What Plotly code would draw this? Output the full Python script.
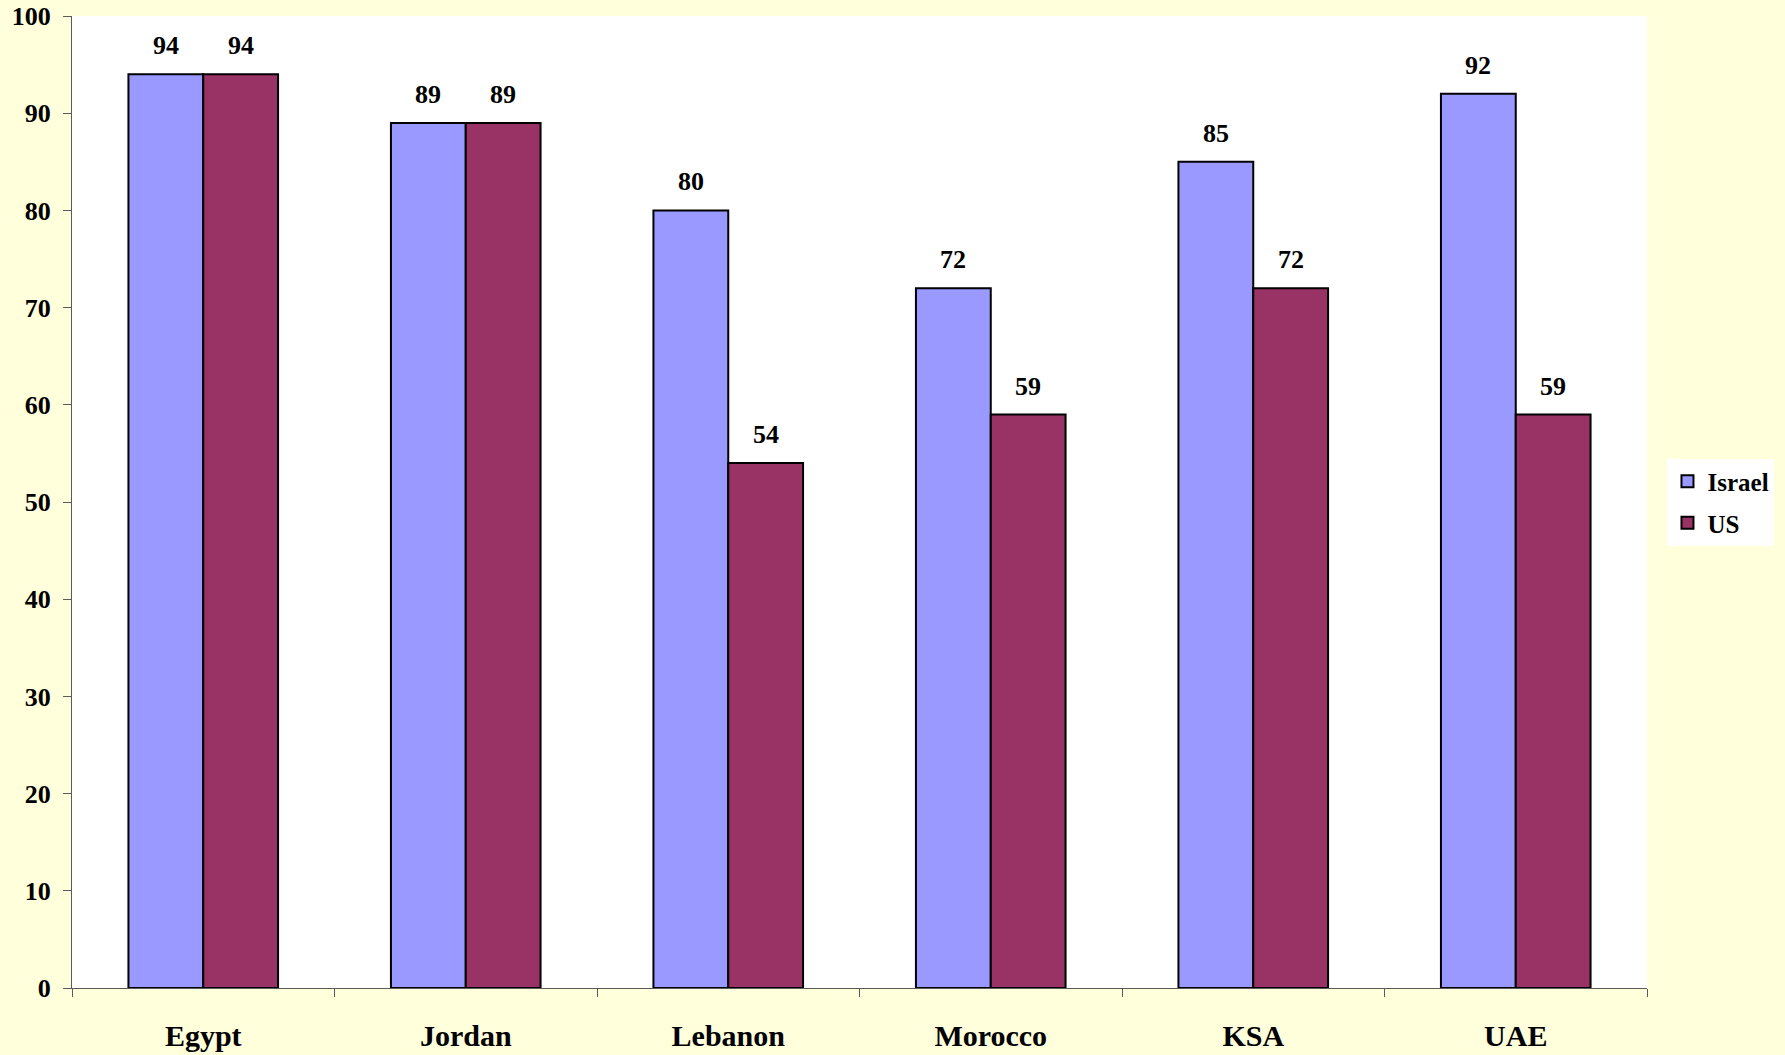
import plotly.graph_objects as go

categories = ["Egypt", "Jordan", "Lebanon", "Morocco", "KSA", "UAE"]
israel = [94, 89, 80, 72, 85, 92]
us = [94, 89, 54, 59, 72, 59]
y_ticks = [0, 10, 20, 30, 40, 50, 60, 70, 80, 90, 100]

FONT = "Liberation Serif"

fig = go.Figure()
fig.add_trace(go.Bar(name="<b>Israel</b>", x=categories, y=israel,
                     marker=dict(color="#9999FF", line=dict(color="black", width=2)),
                     offsetgroup="a", legendgroup="a"))
fig.add_trace(go.Bar(name="<b>US</b>", x=categories, y=us,
                     marker=dict(color="#993366", line=dict(color="black", width=2)),
                     offsetgroup="b", legendgroup="b"))

bargap = 0.43
half = (1 - bargap) / 4
for i, c in enumerate(categories):
    for vals, off in ((israel, -half), (us, half)):
        fig.add_annotation(x=i + off, y=vals[i], xref="x", yref="y",
                           text=f"<b>{vals[i]}</b>", showarrow=False,
                           yanchor="bottom", yshift=12,
                           font=dict(family=FONT, size=26, color="black"))

fig.update_layout(
    width=1785, height=1055,
    margin=dict(l=72, r=138, t=16, b=67, autoexpand=False),
    paper_bgcolor="#FFFFDB",
    plot_bgcolor="white",
    barmode="group",
    bargap=bargap,
    bargroupgap=0,
    font=dict(family=FONT, color="black"),
    legend=dict(x=1.013, xanchor="left", y=0.5, yanchor="middle",
                bgcolor="white", font=dict(family=FONT, size=25, color="black"),
                itemwidth=30, traceorder="grouped", tracegroupgap=6),
    showlegend=True,
)
fig.update_xaxes(
    automargin=False,
    showgrid=False, showline=True, linecolor="#5a5a5a", linewidth=1,
    ticks="outside", tickson="boundaries", ticklen=8, tickcolor="#5a5a5a",
    tickfont=dict(family=FONT, size=30, color="black"),
    ticktext=[f"<b>{c}</b>" for c in categories], tickvals=categories,
    ticklabelstandoff=21,
)
fig.update_yaxes(
    automargin=False,
    range=[0, 100], showgrid=False, showline=True, linecolor="#5a5a5a", linewidth=1,
    ticks="outside", ticklen=8, tickcolor="#5a5a5a",
    tickvals=y_ticks, ticktext=[f"<b>{v}</b>" for v in y_ticks],
    tickfont=dict(family=FONT, size=26, color="black"),
    ticklabelstandoff=7, zeroline=False,
)

fig.write_html(
    "out.html",
    config={"displayModeBar": False},
    post_script="document.body.style.margin='0px';document.documentElement.style.overflow='hidden';document.body.style.overflow='hidden';",
)
